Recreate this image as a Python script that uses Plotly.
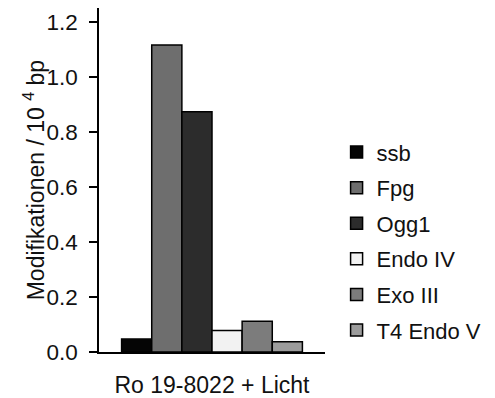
import plotly.graph_objects as go

category = ["Ro 19-8022 + Licht"]
series_names = ["ssb", "Fpg", "Ogg1", "Endo IV", "Exo III", "T4 Endo V"]
series_values = [0.047, 1.116, 0.873, 0.078, 0.112, 0.037]
series_colors = ["#050505", "#6e6e6e", "#2c2c2c", "#f2f2f2", "#7c7c7c", "#9c9c9c"]
y_ticks = [0.0, 0.2, 0.4, 0.6, 0.8, 1.0, 1.2]
y_tick_labels = ["0.0", "0.2", "0.4", "0.6", "0.8", "1.0", "1.2"]
y_title = "Modifikationen / 10 <sup>4</sup> bp"

fig = go.Figure()
for name, val, col in zip(series_names, series_values, series_colors):
    fig.add_trace(go.Bar(
        x=category, y=[val], name=name, legendgroup=name,
        marker=dict(color=col, line=dict(color="#000000", width=1.5)),
    ))

font = "Liberation Sans, Arial, sans-serif"
fig.update_layout(
    width=495, height=398,
    margin=dict(l=99, r=162, t=8, b=46),
    paper_bgcolor="white", plot_bgcolor="white",
    barmode="group", bargap=0.2, bargroupgap=0,
    font=dict(family=font, size=23, color="#111111"),
    showlegend=True,
    legend=dict(x=(345 - 99) / 234, xanchor="left", y=0.322, yanchor="middle",
                tracegroupgap=4, font=dict(size=22),
                itemwidth=30, bgcolor="rgba(0,0,0,0)"),
    xaxis=dict(showline=True, linecolor="#000000", linewidth=1.5,
               ticks="", ticklabelstandoff=12, showgrid=False, automargin=False,
               tickfont=dict(size=23)),
    yaxis=dict(range=[0, 1.25], tickvals=y_ticks, ticktext=y_tick_labels,
               showline=True, linecolor="#000000", linewidth=1.5,
               ticks="outside", ticklen=8, tickwidth=1.5, tickcolor="#000000",
               ticklabelstandoff=7, automargin=False,
               showgrid=False, zeroline=False, tickfont=dict(size=22.5)),
    annotations=[dict(text=y_title, textangle=-90, showarrow=False,
                      xref="paper", yref="paper", x=(32 - 99) / 234, y=0.5,
                      xanchor="center", yanchor="middle",
                      font=dict(size=23))],
)

fig.write_html("out.html")
